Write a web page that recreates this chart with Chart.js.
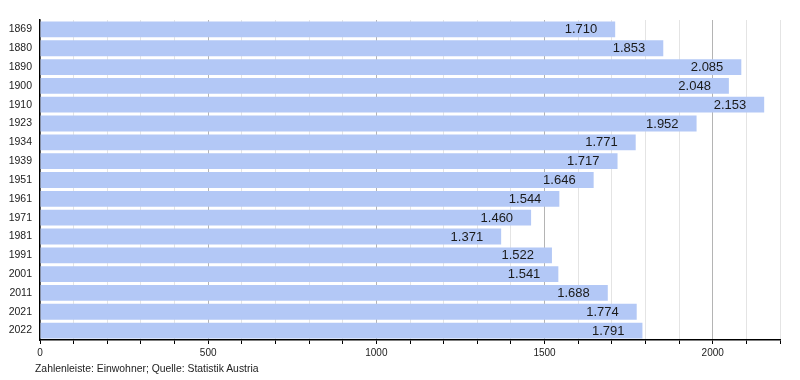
<!DOCTYPE html>
<html><head><meta charset="utf-8">
<script src="https://cdn.jsdelivr.net/npm/chart.js@4"></script>
<style>
html,body{margin:0;padding:0;background:#fff;}
#wrap{position:relative;width:800px;height:380px;}
#foot{position:absolute;left:35px;top:363px;font:10.4px "Liberation Sans",Arial,sans-serif;color:#222;white-space:nowrap;}
</style></head>
<body><div id="wrap"><canvas id="c" width="800" height="380"></canvas><div id="foot">Zahlenleiste: Einwohner; Quelle: Statistik Austria</div></div>
<script>
const years = ["1869","1880","1890","1900","1910","1923","1934","1939","1951","1961","1971","1981","1991","2001","2011","2021","2022"];
const population = [1710,1853,2085,2048,2153,1952,1771,1717,1646,1544,1460,1371,1522,1541,1688,1774,1791];
const xMax = 2200;
const xStep = 100;
const xLabelStep = 500;

const fmt = v => v.toLocaleString('de-DE');

const labelPlugin = {
  id:'vals',
  afterDatasetsDraw(chart){
    const ctx = chart.ctx;
    const meta = chart.getDatasetMeta(0);
    ctx.save();
    ctx.font = '13px "Liberation Sans", Arial, sans-serif';
    ctx.fillStyle = '#1a1a1a';
    ctx.textAlign = 'right';
    ctx.textBaseline = 'middle';
    meta.data.forEach((el,i)=>{
      ctx.fillText(fmt(population[i]), el.x - 18, el.y + 0.5);
    });
    ctx.restore();
  }
};

new Chart(document.getElementById('c'), {
  type:'bar',
  data:{labels:years, datasets:[{data:population, backgroundColor:'#b3c8f6', borderWidth:0, barPercentage:0.84, categoryPercentage:1}]},
  options:{
    indexAxis:'y',
    responsive:false,
    animation:false,
    layout:{padding:{top:20,right:20,left:0,bottom:0}},
    plugins:{legend:{display:false}, tooltip:{enabled:false}},
    scales:{
      x:{
        min:0, max:xMax,
        afterFit(s){ s.height = 40; },
        ticks:{stepSize:xStep, autoSkip:false, maxRotation:0, padding:3, color:'#222',
          font:{family:'"Liberation Sans", Arial, sans-serif', size:10},
          callback:(v)=> v % xLabelStep === 0 ? String(v) : ''},
        grid:{color:(c)=> (c.tick && c.tick.value % xLabelStep === 0) ? '#b4b4b4' : '#e4e4e4',
          tickColor:'#000', tickLength:4, lineWidth:1},
        border:{color:'#000', width:1.5}
      },
      y:{
        afterFit(s){ s.width = 40; },
        ticks:{color:'#222', padding:8, font:{family:'"Liberation Sans", Arial, sans-serif', size:10.5}},
        grid:{display:false, drawTicks:false},
        border:{display:true, color:'#000', width:1.5}
      }
    }
  },
  plugins:[labelPlugin]
});
</script></body></html>
